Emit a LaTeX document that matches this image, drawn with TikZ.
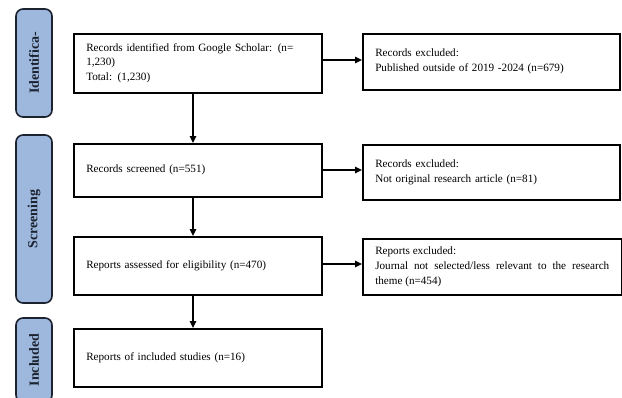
\documentclass[tikz,border=0pt]{standalone}
\usepackage{fontspec}
\setmainfont{Liberation Serif}
\usetikzlibrary{arrows.meta}
\definecolor{barfill}{HTML}{9DB8DC}
\definecolor{barline}{HTML}{1C2330}
\begin{document}
\begin{tikzpicture}[x=1bp,y=-1bp,
  mainbox/.style={draw=black, line width=1.5bp, anchor=north west, inner xsep=12.5bp, inner ysep=0pt,
    font=\fontsize{11.2}{15}\selectfont, align=left},
  sidebar/.style={draw=barline, fill=barfill, line width=1.6bp, rounded corners=7bp, rotate=90,
    minimum height=36bp, inner sep=0pt, font=\bfseries\fontsize{14}{16}\selectfont, text=barline},
  flow/.style={line width=1.4bp, -{Triangle[width=6.5bp,length=7bp]}}]
\useasboundingbox (0,0) rectangle (622,397);
% side bars
\node[sidebar, minimum width=108bp] (idb) at (34,63) {Identifica-};
\node[sidebar, minimum width=168bp] (scb) at (34,219) {Screening};
\node[sidebar, minimum width=84bp] (inb) at (34,360) {Included};
% main boxes
\node[mainbox, text width=223bp, minimum height=59bp] (b1) at (73,33)
  {Records identified from Google Scholar: (n=\\1,230)\\Total: (1,230)};
\node[mainbox, text width=223bp, minimum height=53bp] (b2) at (73,143)
  {Records screened (n=551)};
\node[mainbox, text width=223bp, minimum height=58bp] (b3) at (73,236)
  {Reports assessed for eligibility (n=470)};
\node[mainbox, text width=223bp, minimum height=58bp] (b4) at (73,328)
  {Reports of included studies (n=16)};
% right boxes
\node[mainbox, text width=232bp, minimum height=56bp] (r1) at (362,33)
  {Records excluded:\\Published outside of 2019 -2024 (n=679)};
\node[mainbox, text width=232bp, minimum height=55bp] (r2) at (362,144)
  {Records excluded:\\Not original research article (n=81)};
\node[mainbox, text width=234bp, minimum height=56bp, align=justify] (r3) at (362,238)
  {Reports excluded:\\Journal not selected/less relevant to the research\linebreak theme (n=454)};
% arrows
\draw[flow] (b1.south -| 193,0) -- (b2.north -| 193,0);
\draw[flow] (b2.south -| 193,0) -- (b3.north -| 193,0);
\draw[flow] (b3.south -| 193,0) -- (b4.north -| 193,0);
\draw[flow] (b1.east |- 0,60) -- (r1.west |- 0,60);
\draw[flow] (b2.east |- 0,170) -- (r2.west |- 0,170);
\draw[flow] (b3.east |- 0,264) -- (r3.west |- 0,264);
\end{tikzpicture}
\end{document}
